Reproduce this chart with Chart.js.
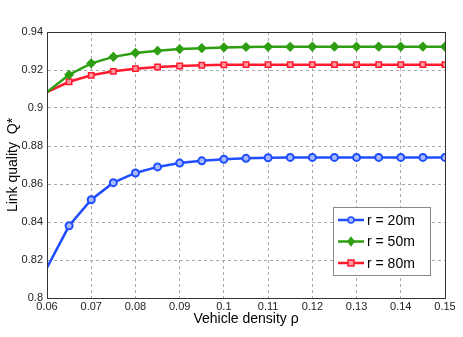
<!DOCTYPE html>
<html>
<head>
<meta charset="utf-8">
<script src="https://cdn.jsdelivr.net/npm/chart.js@4"></script>
<style>
  html, body { margin: 0; padding: 0; background: #fff; }
  #wrap { width: 463px; height: 337px; }
</style>
</head>
<body>
<div id="wrap"><canvas id="chart"></canvas></div>
<script>
// vehicle density (x axis)
const density = [0.06, 0.065, 0.07, 0.075, 0.08, 0.085, 0.09, 0.095, 0.1, 0.105,
                 0.11, 0.115, 0.12, 0.125, 0.13, 0.135, 0.14, 0.145, 0.15];

// link quality Q* for each radius
const r20 = [0.816, 0.838, 0.8517, 0.8607, 0.8658, 0.869, 0.871, 0.8722, 0.873, 0.8735,
             0.8738, 0.874, 0.874, 0.874, 0.874, 0.874, 0.874, 0.874, 0.874];
const r50 = [0.9084, 0.9175, 0.9235, 0.9269, 0.929, 0.9301, 0.931, 0.9315, 0.9319, 0.9321,
             0.9322, 0.9322, 0.9323, 0.9323, 0.9323, 0.9323, 0.9323, 0.9323, 0.9323];
const r80 = [0.9084, 0.9138, 0.9172, 0.9193, 0.9207, 0.9216, 0.9221, 0.9225, 0.9227, 0.9228,
             0.9228, 0.9228, 0.9228, 0.9228, 0.9228, 0.9228, 0.9228, 0.9228, 0.9228];

const seriesLabels = ['r = 20m', 'r = 50m', 'r = 80m'];

const FONT = "'Liberation Sans', Arial, Helvetica, sans-serif";

function toPoints(ys) {
  return density.map((x, i) => ({ x: x, y: ys[i] }));
}

// no marker on the first point
function radii(r) {
  return density.map((_, i) => (i === 0 ? 0 : r));
}

// frame around plot area, plus a legend box inside it
const framePlugin = {
  id: 'frame',
  afterDraw(chart) {
    const { ctx, chartArea: a } = chart;
    ctx.save();
    ctx.strokeStyle = '#333';
    ctx.lineWidth = 1;
    ctx.setLineDash([]);
    ctx.strokeRect(Math.round(a.left) + 0.5, Math.round(a.top) + 0.5,
                   Math.round(a.right - a.left), Math.round(a.bottom - a.top));

    // legend
    const bx = a.right - 112, by = a.bottom - 91, bw = 97, bh = 68;
    ctx.fillStyle = '#fff';
    ctx.fillRect(bx, by, bw, bh);
    ctx.strokeStyle = '#888';
    ctx.strokeRect(bx + 0.5, by + 0.5, bw, bh);
    chart.data.datasets.forEach((ds, i) => {
      const y = by + 13 + i * 21.5;
      ctx.strokeStyle = ds.borderColor;
      ctx.lineWidth = 2.5;
      ctx.beginPath();
      ctx.moveTo(bx + 5, y);
      ctx.lineTo(bx + 31, y);
      ctx.stroke();
      ctx.lineWidth = 1.5;
      ctx.fillStyle = ds.pointBackgroundColor;
      ctx.strokeStyle = ds.borderColor;
      const cx = bx + 18;
      ctx.beginPath();
      if (ds.pointStyle === 'circle') {
        ctx.arc(cx, y, 3, 0, Math.PI * 2);
      } else if (ds.pointStyle === 'rectRot') {
        ctx.moveTo(cx, y - 4); ctx.lineTo(cx + 3, y); ctx.lineTo(cx, y + 4); ctx.lineTo(cx - 3, y); ctx.closePath();
      } else {
        ctx.rect(cx - 3, y - 3, 6, 6);
      }
      ctx.fill();
      ctx.stroke();
      ctx.fillStyle = '#000';
      ctx.font = '14px ' + FONT;
      ctx.textBaseline = 'middle';
      ctx.fillText(ds.label, bx + 34, y + 1);
    });
    ctx.restore();
  }
};

new Chart(document.getElementById('chart'), {
  type: 'line',
  data: {
    datasets: [
      {
        label: seriesLabels[0],
        data: toPoints(r20),
        borderColor: '#1f4dff',
        pointBackgroundColor: '#a9baff',
        pointStyle: 'circle',
        pointRadius: radii(3.5),
        pointBorderWidth: 2,
        borderWidth: 2.5,
        tension: 0
      },
      {
        label: seriesLabels[1],
        data: toPoints(r50),
        borderColor: '#2e9e12',
        pointBackgroundColor: '#2e9e12',
        pointStyle: 'rectRot',
        pointRadius: radii(4),
        pointBorderWidth: 1.5,
        borderWidth: 2.5,
        tension: 0
      },
      {
        label: seriesLabels[2],
        data: toPoints(r80),
        borderColor: '#ff1a2e',
        pointBackgroundColor: '#ff9aa4',
        pointStyle: 'rect',
        pointRadius: radii(3.8),
        pointBorderWidth: 1.5,
        borderWidth: 2.5,
        tension: 0
      }
    ]
  },
  options: {
    responsive: true,
    maintainAspectRatio: false,
    animation: false,
    layout: { padding: { left: 5, top: 32, right: 18, bottom: 9 } },
    plugins: {
      legend: { display: false },
      tooltip: { enabled: false }
    },
    scales: {
      x: {
        type: 'linear',
        min: 0.06,
        max: 0.15,
        afterFit(scale) { scale.height = 30; },
        ticks: {
          stepSize: 0.01,
          maxRotation: 0,
          padding: 2,
          color: '#222',
          font: { family: FONT, size: 11 },
          callback: v => String(+v.toFixed(2))
        },
        grid: {
          color: '#aaa',
          drawTicks: false
        },
        border: { display: true, color: '#333', dash: [3, 3] },
        title: {
          display: true,
          text: 'Vehicle density ρ',
          color: '#000',
          font: { family: FONT, size: 14 },
          padding: { top: 0, bottom: 0 }
        }
      },
      y: {
        min: 0.8,
        max: 0.94,
        afterFit(scale) { scale.width = 42; },
        ticks: {
          stepSize: 0.02,
          padding: 4,
          color: '#222',
          font: { family: FONT, size: 11 },
          callback: v => String(+v.toFixed(2))
        },
        grid: {
          color: '#aaa',
          drawTicks: false
        },
        border: { display: true, color: '#333', dash: [3, 3] },
        title: {
          display: true,
          text: 'Link quality  Q*',
          color: '#000',
          font: { family: FONT, size: 14 },
          padding: { top: 0, bottom: 0 }
        }
      }
    }
  },
  plugins: [framePlugin]
});
</script>
</body>
</html>
